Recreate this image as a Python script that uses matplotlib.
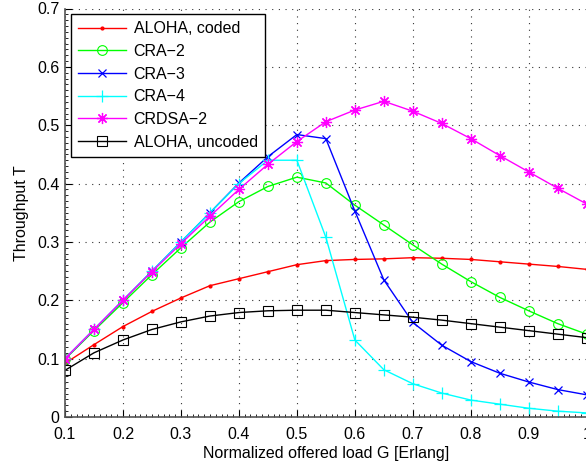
import matplotlib
matplotlib.use("Agg")
import matplotlib.pyplot as plt
from matplotlib.ticker import MultipleLocator, FuncFormatter

plt.rcParams['font.family'] = ['Liberation Sans', 'DejaVu Sans']

G = [0.1, 0.15, 0.2, 0.25, 0.3, 0.35, 0.4, 0.45, 0.5, 0.55,
     0.6, 0.65, 0.7, 0.75, 0.8, 0.85, 0.9, 0.95, 1.0]

aloha_coded = [0.092, 0.124, 0.155, 0.181, 0.204, 0.225, 0.237, 0.249, 0.261, 0.268,
               0.270, 0.271, 0.273, 0.272, 0.270, 0.266, 0.262, 0.258, 0.253]
cra2 = [0.099, 0.148, 0.196, 0.244, 0.290, 0.334, 0.369, 0.395, 0.411, 0.401,
        0.363, 0.329, 0.295, 0.262, 0.232, 0.205, 0.182, 0.160, 0.142]
cra3 = [0.100, 0.150, 0.200, 0.250, 0.300, 0.350, 0.401, 0.446, 0.484, 0.477,
        0.353, 0.235, 0.162, 0.123, 0.095, 0.075, 0.060, 0.047, 0.038]
cra4 = [0.100, 0.150, 0.200, 0.250, 0.300, 0.350, 0.400, 0.440, 0.440, 0.308,
        0.132, 0.081, 0.057, 0.041, 0.029, 0.022, 0.015, 0.010, 0.007]
crdsa2 = [0.100, 0.150, 0.200, 0.249, 0.297, 0.344, 0.390, 0.433, 0.472, 0.506,
          0.526, 0.541, 0.524, 0.503, 0.477, 0.448, 0.420, 0.392, 0.365]
aloha_uncoded = [0.080, 0.110, 0.132, 0.150, 0.163, 0.173, 0.179, 0.182, 0.183, 0.183,
                 0.179, 0.175, 0.171, 0.166, 0.160, 0.154, 0.148, 0.142, 0.136]

fig = plt.figure(figsize=(5.86, 4.62), dpi=100)
ax = fig.add_axes([65 / 586, 45 / 462, 521.7 / 586, 408.5 / 462])

ax.plot(G, aloha_coded, color='red', marker='.', markersize=4, lw=1, label='ALOHA, coded')
ax.plot(G, cra2, color=(0, 1, 0), marker='o', markersize=7, mfc='none', mew=0.8, lw=1,
        label='CRA\u22122')
ax.plot(G, cra3, color='blue', marker='x', markersize=6, mew=0.9, lw=1, label='CRA\u22123')
ax.plot(G, cra4, color='cyan', marker='+', markersize=8, mew=0.9, lw=1, label='CRA\u22124')
ax.plot(G, crdsa2, color='magenta', marker=(8, 2, 0), markersize=8, mew=0.9, lw=1,
        label='CRDSA\u22122')
ax.plot(G, aloha_uncoded, color='black', marker='s', markersize=6.5, mfc='none', mew=0.8, lw=1,
        label='ALOHA, uncoded')

ax.set_xlim(0.1, 1.0)
ax.set_ylim(0, 0.7)
ax.xaxis.set_major_locator(MultipleLocator(0.1))
ax.xaxis.set_minor_locator(MultipleLocator(0.01))
ax.yaxis.set_major_locator(MultipleLocator(0.1))
ax.yaxis.set_minor_locator(MultipleLocator(0.01))
ax.xaxis.set_major_formatter(FuncFormatter(lambda v, p: '%g' % round(v, 2)))
ax.yaxis.set_major_formatter(FuncFormatter(lambda v, p: '%g' % round(v, 2)))

ax.tick_params(which='major', direction='in', length=5, width=0.8, labelsize=11.5)
ax.tick_params(axis='x', which='major', pad=7)
ax.tick_params(axis='y', which='major', pad=4)
ax.tick_params(which='minor', direction='in', length=2.5, width=0.6)
ax.grid(True, which='major', color='#333333', linestyle=(0, (1, 5)), linewidth=0.8)

for side in ['top', 'right']:
    ax.spines[side].set_visible(False)
for side in ['left', 'bottom']:
    ax.spines[side].set_color('#555555')
    ax.spines[side].set_linewidth(1.2)

ax.set_xlabel('Normalized offered load G [Erlang]', fontsize=11.5, labelpad=3)
ax.set_ylabel('Throughput T', fontsize=11.5, labelpad=6)

leg = ax.legend(loc='upper left', fontsize=11.5, frameon=True, fancybox=False,
                edgecolor='black', framealpha=1, handlelength=3.0, borderaxespad=0.35,
                labelspacing=0.48, borderpad=0.45, handletextpad=0.5)
leg.get_frame().set_linewidth(1.0)

fig.savefig('out.png', dpi=100)
